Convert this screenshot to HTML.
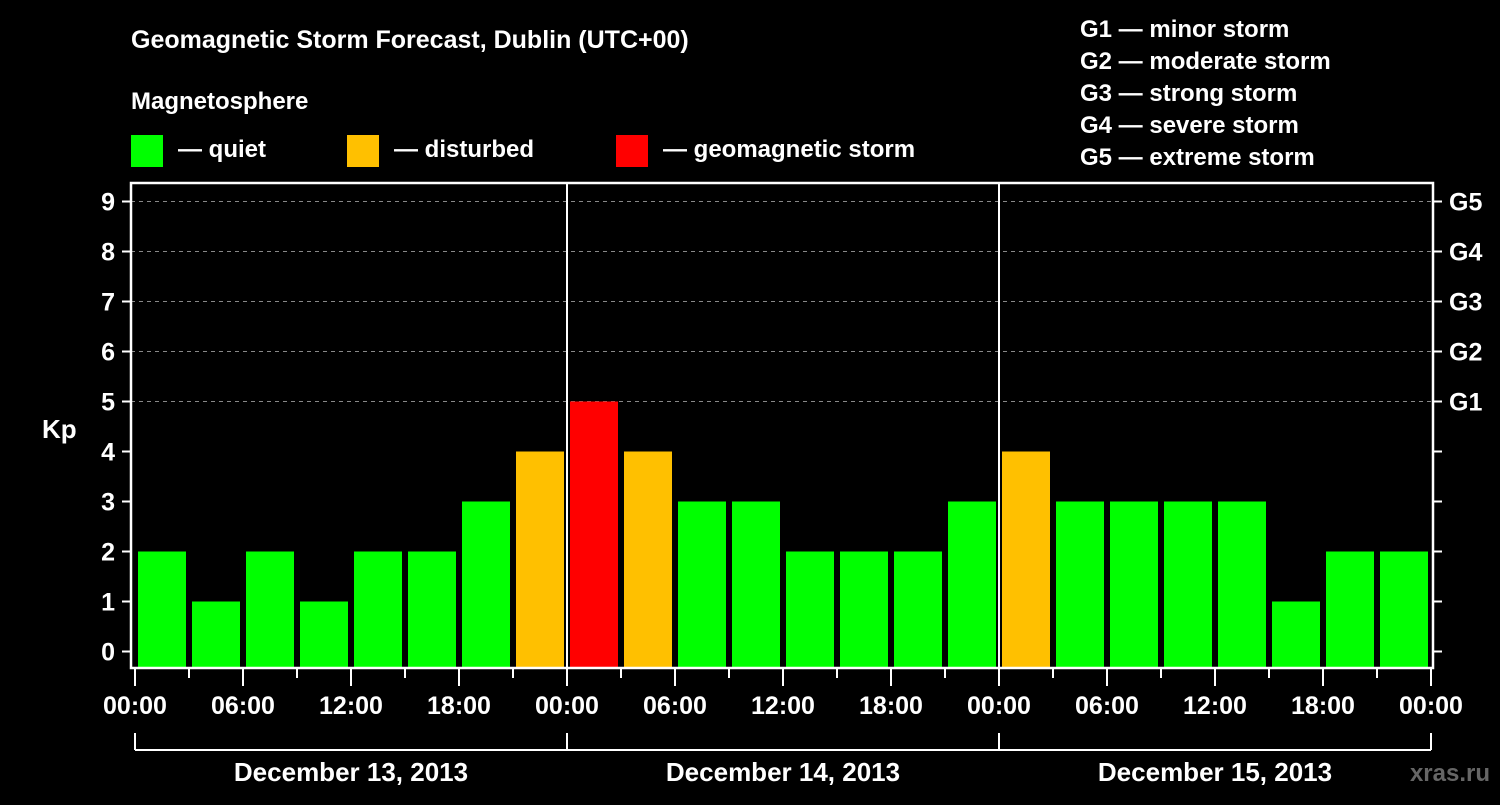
<!DOCTYPE html>
<html><head><meta charset="utf-8"><style>
body{margin:0;background:#000;}
svg text{font-family:"Liberation Sans",sans-serif;font-weight:bold;fill:#fff;}
</style></head><body>
<svg id="c" width="1500" height="800" viewBox="0 0 1500 800">
<rect width="1500" height="800" fill="#000"/>
<text x="131" y="48" font-size="25">Geomagnetic Storm Forecast, Dublin (UTC+00)</text>
<text x="131" y="109" font-size="24">Magnetosphere</text>
<g><rect x="131" y="135" width="32" height="32" fill="#00ff00"/><text x="178" y="157" font-size="24">— quiet</text></g>
<g><rect x="347" y="135" width="32" height="32" fill="#ffc000"/><text x="394" y="157" font-size="24">— disturbed</text></g>
<g><rect x="616" y="135" width="32" height="32" fill="#ff0000"/><text x="663" y="157" font-size="24">— geomagnetic storm</text></g>
<g font-size="24">
<text x="1080" y="37">G1 — minor storm</text>
<text x="1080" y="69">G2 — moderate storm</text>
<text x="1080" y="101">G3 — strong storm</text>
<text x="1080" y="133">G4 — severe storm</text>
<text x="1080" y="165">G5 — extreme storm</text>
</g>
<text x="42" y="438" font-size="26">Kp</text>
<text x="1490" y="781" font-size="24" fill="#555" style="fill:#666" text-anchor="end">xras.ru</text>
<g id="plot"></g>
</svg>
<script>
const kpValues=[2,1,2,1,2,2,3,4,5,4,3,3,2,2,2,3,4,3,3,3,3,1,2,2];
const yTicks=[0,1,2,3,4,5,6,7,8,9];
const gLabels=["G1","G2","G3","G4","G5"];
const timeLabels=["00:00","06:00","12:00","18:00","00:00","06:00","12:00","18:00","00:00","06:00","12:00","18:00","00:00"];
const dayLabels=["December 13, 2013","December 14, 2013","December 15, 2013"];
const NS="http://www.w3.org/2000/svg";
const g=document.getElementById('plot');
const L=131,R=1433,T=183,B=668;
const x=h=>135+h*(1296/72);
const y=v=>651.5-v*50;
function mk(tag,a,parent){const e=document.createElementNS(NS,tag);for(const k in a)e.setAttribute(k,a[k]);(parent||g).appendChild(e);return e;}
// grid
yTicks.forEach(v=>{if(v>=5){const l=mk('line',{x1:L,x2:R,y1:y(v),y2:y(v),stroke:'#888','stroke-dasharray':'4,4','stroke-width':1});

}});
// bars
kpValues.forEach((v,i)=>{const col=v>=5?'#ff0000':(v>=4?'#ffc000':'#00ff00');
const r=mk('rect',{x:x(i*3)+3,y:y(v),width:x(i*3+3)-x(i*3)-6,height:B-y(v),fill:col});

});
// day separators
[1,2].forEach(d=>{const l=mk('line',{x1:x(d*24),x2:x(d*24),y1:T,y2:B,stroke:'#fff','stroke-width':2});

});
// frame
const f=mk('rect',{x:L,y:T,width:R-L,height:B-T,fill:'none',stroke:'#fff','stroke-width':2.5});


// y ticks
yTicks.forEach(v=>{mk('line',{x1:L-9,x2:L,y1:y(v),y2:y(v),stroke:'#fff','stroke-width':2});
mk('line',{x1:R,x2:R+9,y1:y(v),y2:y(v),stroke:'#fff','stroke-width':2});
const t=mk('text',{x:115,y:y(v)+9,'font-size':25,'text-anchor':'end'});t.textContent=v;

});
gLabels.forEach((s,i)=>{const t=mk('text',{x:1449,y:y(5+i)+9,'font-size':25});t.textContent=s;

});
// x ticks
for(let h=0;h<=72;h+=3){const major=h%6===0;mk('line',{x1:x(h),x2:x(h),y1:B,y2:B+(major?18:10),stroke:'#fff','stroke-width':2});}
timeLabels.forEach((s,i)=>{const t=mk('text',{x:x(i*6),y:714,'font-size':25,'text-anchor':'middle'});t.textContent=s;

});
// day brackets
mk('line',{x1:x(0),x2:x(72),y1:750,y2:750,stroke:'#fff','stroke-width':2});
for(let d=0;d<=3;d++)mk('line',{x1:x(d*24),x2:x(d*24),y1:733,y2:750,stroke:'#fff','stroke-width':2});
dayLabels.forEach((s,i)=>{const t=mk('text',{x:x(i*24+12),y:781,'font-size':26,'text-anchor':'middle'});t.textContent=s;

});
</script>
</body></html>
